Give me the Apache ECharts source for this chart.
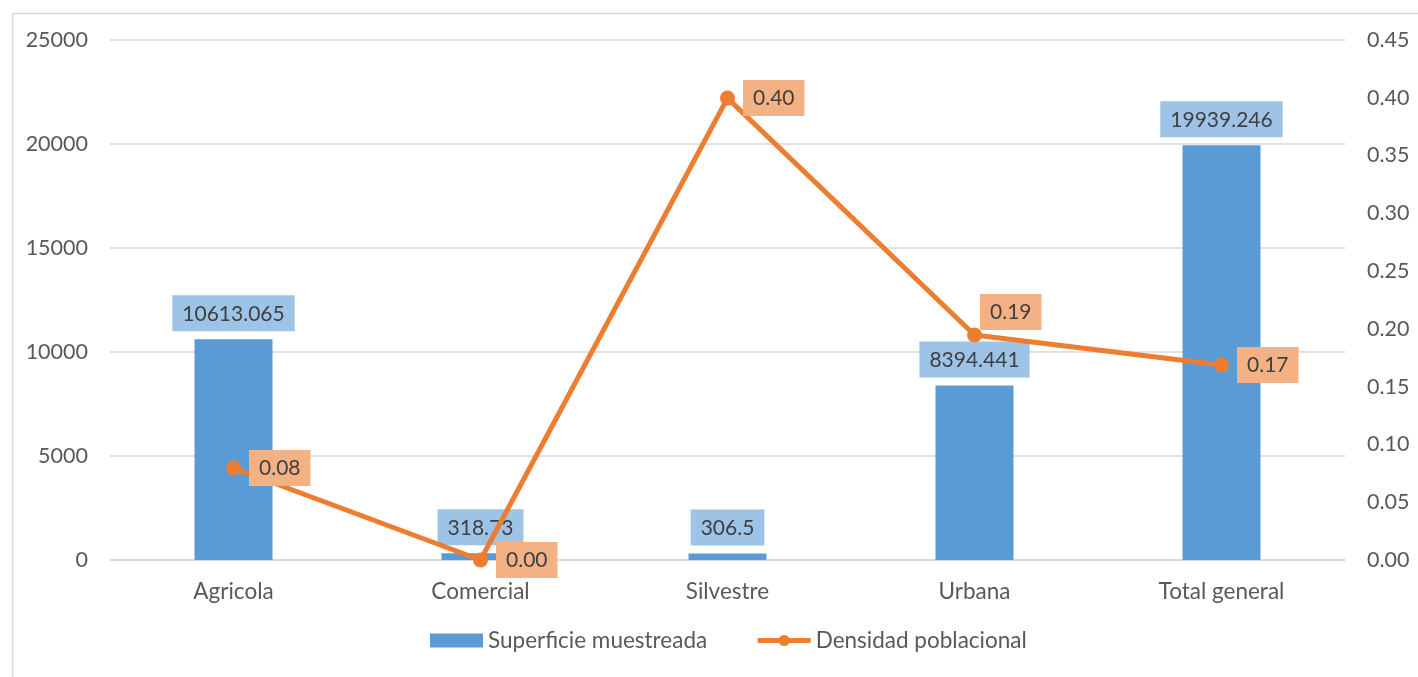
<!DOCTYPE html>
<html>
<head>
<meta charset="utf-8">
<script src="https://cdn.jsdelivr.net/npm/echarts@6/dist/echarts.min.js"></script>
<style>
html,body{margin:0;padding:0;background:#fff;}
#c{width:1418px;height:677px;}
</style>
</head>
<body>
<div id="c"></div>
<script>
const categories = ['Agricola', 'Comercial', 'Silvestre', 'Urbana', 'Total general'];
const superficie = [10613.065, 318.73, 306.5, 8394.441, 19939.246];
const densidad = [0.0796, 0.0, 0.3997, 0.1947, 0.1687];
const leftTicks = { min: 0, max: 25000, interval: 5000 };
const rightTicks = { min: 0, max: 0.45, interval: 0.05 };
const seriesNames = ['Superficie muestreada', 'Densidad poblacional'];

const FONT = 'Lato';
const TXT = '#595959';
const chart = echarts.init(document.getElementById('c'), null, { renderer: 'canvas' });

const lineData = densidad.map((v, i) => {
  const d = { value: v };
  if (i === 3) {
    d.label = { position: 'right', offset: [-10, -23] };
  }
  return d;
});

chart.setOption({
  animation: false,
  backgroundColor: '#fff',
  textStyle: { fontFamily: FONT },
  graphic: [{
    type: 'rect', left: 10, top: 11,
    shape: { width: 1420, height: 680 },
    style: { fill: 'none', stroke: '#D9D9D9', lineWidth: 1.5 },
    silent: true
  }],
  grid: { left: 110, right: 73, top: 40, bottom: 117, containLabel: false },
  legend: {
    bottom: 20, left: 425,
    itemGap: 48, itemWidth: 53, itemHeight: 14,
    textStyle: { fontFamily: FONT, fontSize: 22.5, color: TXT },
    data: [
      { name: seriesNames[0], icon: 'rect' },
      { name: seriesNames[1], lineStyle: { width: 5 } }
    ]
  },
  xAxis: {
    type: 'category', data: categories,
    axisLine: { lineStyle: { color: '#D9D9D9', width: 1.5 } },
    axisTick: { show: false },
    axisLabel: { fontFamily: FONT, fontSize: 22.5, color: TXT, margin: 20 }
  },
  yAxis: [{
    type: 'value', min: leftTicks.min, max: leftTicks.max, interval: leftTicks.interval,
    axisLine: { show: false }, axisTick: { show: false },
    splitLine: { lineStyle: { color: '#D9D9D9', width: 1.5 } },
    axisLabel: { fontFamily: FONT, fontSize: 21.5, color: TXT, margin: 22,
      formatter: v => String(v) }
  }, {
    type: 'value', min: rightTicks.min, max: rightTicks.max, interval: rightTicks.interval,
    axisLine: { show: false }, axisTick: { show: false },
    splitLine: { show: false },
    axisLabel: { fontFamily: FONT, fontSize: 21.5, color: TXT, margin: 22,
      formatter: v => v.toFixed(2) }
  }],
  series: [{
    name: seriesNames[0], type: 'bar', data: superficie, yAxisIndex: 0,
    barWidth: 78,
    itemStyle: { color: '#5B9BD5' },
    label: {
      show: true, position: 'top', distance: 8,
      fontFamily: FONT, fontSize: 21, color: '#404040',
      backgroundColor: '#9DC3E6', padding: [8, 10, 7, 10],
      formatter: p => String(p.value)
    }
  }, {
    name: seriesNames[1], type: 'line', data: lineData, yAxisIndex: 1,
    symbol: 'circle', symbolSize: 15,
    lineStyle: { color: '#ED7D31', width: 5 },
    itemStyle: { color: '#ED7D31' },
    z: 5,
    label: {
      show: true, position: 'right', distance: 8,
      fontFamily: FONT, fontSize: 21, color: '#404040',
      backgroundColor: '#F4B183', padding: [8, 10, 7, 10],
      formatter: p => Number(p.value).toFixed(2)
    }
  }]
});
</script>
</body>
</html>
